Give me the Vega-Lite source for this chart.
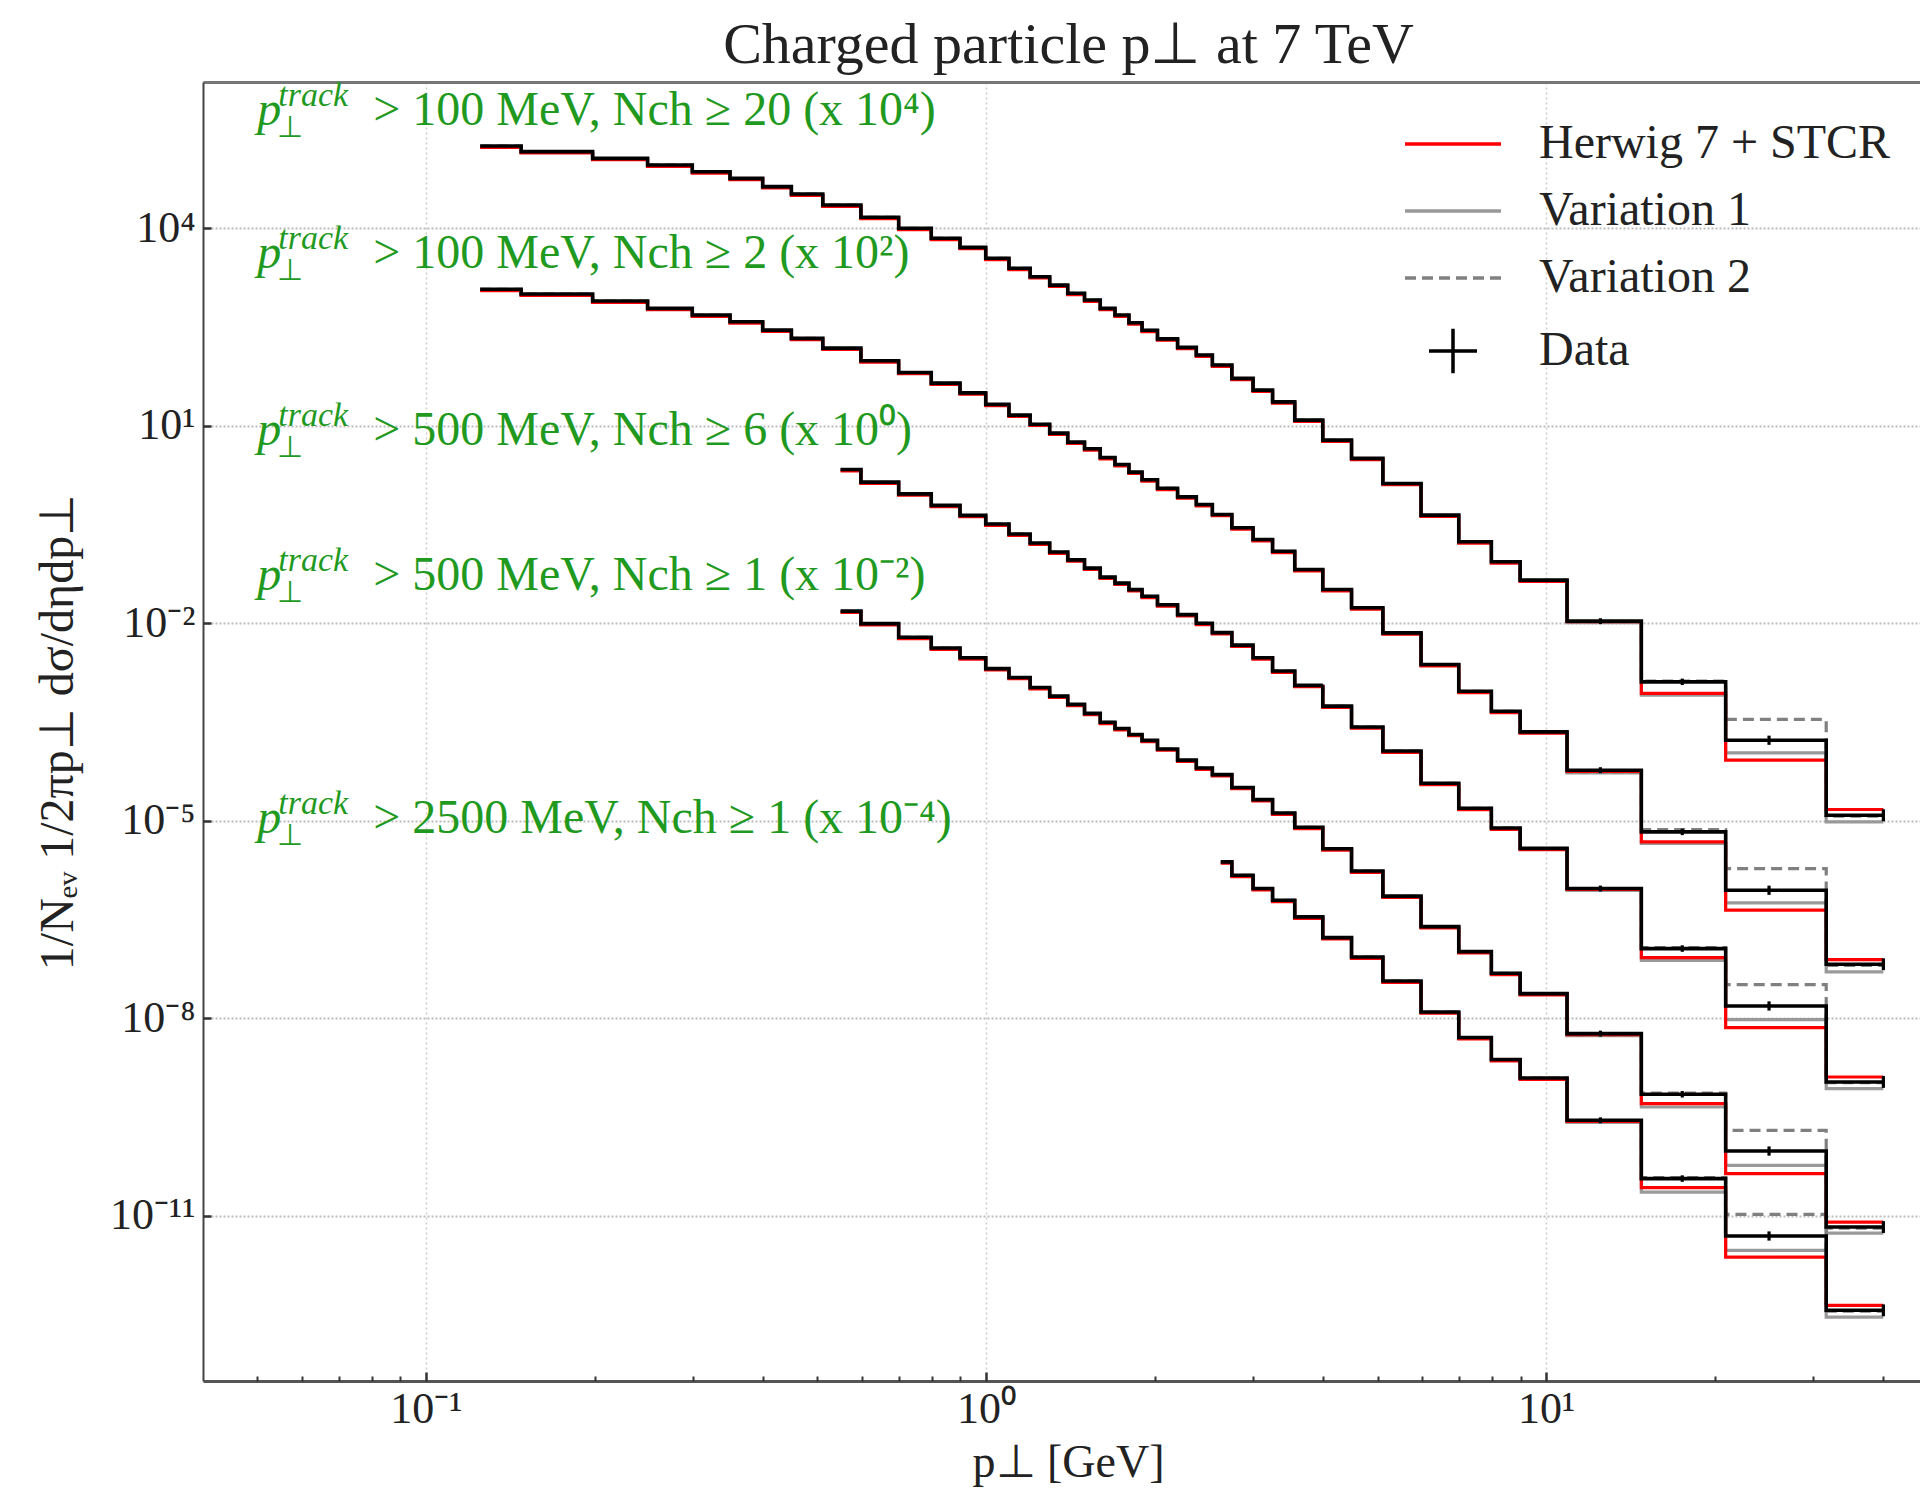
{
"$schema": "https://vega.github.io/schema/vega-lite/v6.json",
"width": 1717,
"height": 1299,
"autosize": {"type": "none"},
"padding": {"left": 203, "top": 82, "right": 0, "bottom": 109},
"background": "white",
"config": {
"view": {"stroke": null},
"font": "Liberation Serif",
"legend": {"orient": "none", "direction": "vertical", "legendX": 1226, "legendY": 38, "labelFont": "Liberation Serif", "labelFontSize": 48, "labelColor": "#222222", "labelLimit": 1000, "symbolSize": 576, "symbolStrokeWidth": 3.5, "labelOffset": 62, "rowPadding": 19, "padding": 0, "offset": 0}
},
"title": {"text": "Charged particle p⊥ at 7 TeV", "font": "Liberation Serif", "fontSize": 58, "fontWeight": "normal", "color": "#222222", "anchor": "middle", "frame": "group", "dx": 7, "dy": 60, "offset": 18, "baseline": "alphabetic"},
"datasets": {
"spec": [
{"c":"A","pt":0.125,"data":1.778e5,"h7":1.70e5,"v1":1.73e5,"v2":1.77e5},
{"c":"A","pt":0.175,"data":1.46e5,"h7":1.395e5,"v1":1.42e5,"v2":1.45e5},
{"c":"A","pt":0.225,"data":1.156e5,"h7":1.10e5,"v1":1.127e5,"v2":1.15e5},
{"c":"A","pt":0.275,"data":9.16e4,"h7":8.75e4,"v1":8.93e4,"v2":9.11e4},
{"c":"A","pt":0.325,"data":7.24e4,"h7":6.91e4,"v1":7.06e4,"v2":7.2e4},
{"c":"A","pt":0.375,"data":5.74e4,"h7":5.48e4,"v1":5.6e4,"v2":5.71e4},
{"c":"A","pt":0.425,"data":4.29e4,"h7":4.1e4,"v1":4.18e4,"v2":4.27e4},
{"c":"A","pt":0.475,"data":3.32e4,"h7":3.17e4,"v1":3.24e4,"v2":3.3e4},
{"c":"A","pt":0.55,"data":2.26e4,"h7":2.16e4,"v1":2.2e4,"v2":2.25e4},
{"c":"A","pt":0.65,"data":1.47e4,"h7":1.40e4,"v1":1.433e4,"v2":1.463e4},
{"c":"A","pt":0.75,"data":1.00e4,"h7":9.55e3,"v1":9.75e3,"v2":9.95e3},
{"c":"A","pt":0.85,"data":7.05e3,"h7":6.73e3,"v1":6.87e3,"v2":7.01e3},
{"c":"A","pt":0.95,"data":5.13e3,"h7":4.9e3,"v1":5.0e3,"v2":5.1e3},
{"c":"A","pt":1.05,"data":3.50e3,"h7":3.34e3,"v1":3.41e3,"v2":3.48e3},
{"c":"A","pt":1.15,"data":2.47e3,"h7":2.36e3,"v1":2.41e3,"v2":2.46e3},
{"c":"A","pt":1.25,"data":1.84e3,"h7":1.757e3,"v1":1.794e3,"v2":1.83e3},
{"c":"A","pt":1.35,"data":1.37e3,"h7":1.308e3,"v1":1.336e3,"v2":1.363e3},
{"c":"A","pt":1.45,"data":1.03e3,"h7":984,"v1":1004,"v2":1025},
{"c":"A","pt":1.55,"data":813,"h7":776,"v1":793,"v2":809},
{"c":"A","pt":1.65,"data":608,"h7":581,"v1":593,"v2":605},
{"c":"A","pt":1.75,"data":481,"h7":459,"v1":469,"v2":479},
{"c":"A","pt":1.85,"data":368,"h7":351,"v1":359,"v2":366},
{"c":"A","pt":1.95,"data":282,"h7":269,"v1":275,"v2":281},
{"c":"A","pt":2.1,"data":209,"h7":200,"v1":204,"v2":208},
{"c":"A","pt":2.3,"data":155,"h7":148,"v1":151,"v2":154},
{"c":"A","pt":2.45,"data":119,"h7":113.6,"v1":116,"v2":118.4},
{"c":"A","pt":2.625,"data":83.6,"h7":79.8,"v1":81.5,"v2":83.2},
{"c":"A","pt":2.875,"data":52.5,"h7":50.1,"v1":51.2,"v2":52.2},
{"c":"A","pt":3.125,"data":34.8,"h7":33.2,"v1":33.9,"v2":34.6},
{"c":"A","pt":3.375,"data":23.1,"h7":22.1,"v1":22.5,"v2":23.0},
{"c":"A","pt":3.75,"data":12.2,"h7":11.65,"v1":11.9,"v2":12.14},
{"c":"A","pt":4.25,"data":6.05,"h7":5.78,"v1":5.9,"v2":6.02},
{"c":"A","pt":4.75,"data":3.19,"h7":3.05,"v1":3.11,"v2":3.17},
{"c":"A","pt":5.5,"data":1.33,"h7":1.27,"v1":1.297,"v2":1.323},
{"c":"A","pt":6.5,"data":0.4385,"h7":0.419,"v1":0.4275,"v2":0.436},
{"c":"A","pt":7.5,"data":0.1726,"h7":0.1648,"v1":0.1683,"v2":0.1717},
{"c":"A","pt":8.5,"data":0.0857,"h7":0.0818,"v1":0.0836,"v2":0.0853},
{"c":"A","pt":9.5,"data":0.0452,"h7":0.0432,"v1":0.0441,"v2":0.045},
{"c":"A","pt":12.5,"data":0.01076,"h7":0.0106,"v1":0.01023,"v2":0.01047,"lo":0.0097,"hi":0.0119},
{"c":"A","pt":17.5,"data":1.285e-3,"h7":8.57e-4,"v1":8.05e-4,"v2":1.318e-3,"lo":1.15e-3,"hi":1.44e-3},
{"c":"A","pt":25,"data":1.671e-4,"h7":8.30e-5,"v1":1.072e-4,"v2":3.45e-4,"lo":1.42e-4,"hi":1.96e-4},
{"c":"A","pt":40,"data":1.21e-5,"h7":1.479e-5,"v1":9.6e-6,"v2":1.175e-5,"lo":9.8e-6,"hi":1.49e-5},
{"c":"B","pt":0.125,"data":1183,"h7":1130,"v1":1153,"v2":1177},
{"c":"B","pt":0.175,"data":1002,"h7":957,"v1":977,"v2":997},
{"c":"B","pt":0.225,"data":785,"h7":750,"v1":765,"v2":781},
{"c":"B","pt":0.275,"data":608,"h7":581,"v1":593,"v2":605},
{"c":"B","pt":0.325,"data":481,"h7":459,"v1":469,"v2":479},
{"c":"B","pt":0.375,"data":380,"h7":363,"v1":370.5,"v2":378},
{"c":"B","pt":0.425,"data":284,"h7":271,"v1":277,"v2":282.6},
{"c":"B","pt":0.475,"data":213,"h7":203.4,"v1":207.7,"v2":212},
{"c":"B","pt":0.55,"data":151,"h7":144.2,"v1":147.2,"v2":150.2},
{"c":"B","pt":0.65,"data":97.0,"h7":92.6,"v1":94.6,"v2":96.5},
{"c":"B","pt":0.75,"data":64.6,"h7":61.7,"v1":63.0,"v2":64.3},
{"c":"B","pt":0.85,"data":44.5,"h7":42.5,"v1":43.4,"v2":44.3},
{"c":"B","pt":0.95,"data":31.6,"h7":30.2,"v1":30.8,"v2":31.4},
{"c":"B","pt":1.05,"data":21.1,"h7":20.15,"v1":20.6,"v2":21.0},
{"c":"B","pt":1.15,"data":14.5,"h7":13.85,"v1":14.14,"v2":14.43},
{"c":"B","pt":1.25,"data":10.57,"h7":10.09,"v1":10.31,"v2":10.52},
{"c":"B","pt":1.35,"data":7.73,"h7":7.38,"v1":7.54,"v2":7.69},
{"c":"B","pt":1.45,"data":5.65,"h7":5.40,"v1":5.51,"v2":5.62},
{"c":"B","pt":1.55,"data":4.47,"h7":4.27,"v1":4.36,"v2":4.45},
{"c":"B","pt":1.65,"data":3.30,"h7":3.15,"v1":3.22,"v2":3.28},
{"c":"B","pt":1.75,"data":2.58,"h7":2.46,"v1":2.52,"v2":2.57},
{"c":"B","pt":1.85,"data":1.977,"h7":1.888,"v1":1.928,"v2":1.967},
{"c":"B","pt":1.95,"data":1.514,"h7":1.446,"v1":1.476,"v2":1.506},
{"c":"B","pt":2.1,"data":1.122,"h7":1.072,"v1":1.094,"v2":1.116},
{"c":"B","pt":2.3,"data":0.832,"h7":0.795,"v1":0.811,"v2":0.828},
{"c":"B","pt":2.45,"data":0.637,"h7":0.608,"v1":0.621,"v2":0.634},
{"c":"B","pt":2.625,"data":0.449,"h7":0.429,"v1":0.438,"v2":0.447},
{"c":"B","pt":2.875,"data":0.282,"h7":0.269,"v1":0.275,"v2":0.281},
{"c":"B","pt":3.125,"data":0.187,"h7":0.1786,"v1":0.1823,"v2":0.1861},
{"c":"B","pt":3.375,"data":0.124,"h7":0.1184,"v1":0.1209,"v2":0.1234},
{"c":"B","pt":3.75,"data":6.55e-2,"h7":6.26e-2,"v1":6.39e-2,"v2":6.52e-2},
{"c":"B","pt":4.25,"data":3.25e-2,"h7":3.10e-2,"v1":3.17e-2,"v2":3.23e-2},
{"c":"B","pt":4.75,"data":1.714e-2,"h7":1.637e-2,"v1":1.671e-2,"v2":1.705e-2},
{"c":"B","pt":5.5,"data":7.14e-3,"h7":6.82e-3,"v1":6.96e-3,"v2":7.10e-3},
{"c":"B","pt":6.5,"data":2.355e-3,"h7":2.249e-3,"v1":2.296e-3,"v2":2.343e-3},
{"c":"B","pt":7.5,"data":9.27e-4,"h7":8.85e-4,"v1":9.04e-4,"v2":9.22e-4},
{"c":"B","pt":8.5,"data":4.60e-4,"h7":4.39e-4,"v1":4.49e-4,"v2":4.58e-4},
{"c":"B","pt":9.5,"data":2.234e-4,"h7":2.13e-4,"v1":2.18e-4,"v2":2.22e-4},
{"c":"B","pt":12.5,"data":5.85e-5,"h7":5.6e-5,"v1":5.3e-5,"v2":5.5e-5,"lo":5.27e-5,"hi":6.49e-5},
{"c":"B","pt":17.5,"data":6.75e-6,"h7":4.75e-6,"v1":4.50e-6,"v2":7.35e-6,"lo":6.03e-6,"hi":7.56e-6},
{"c":"B","pt":25,"data":8.77e-7,"h7":4.365e-7,"v1":5.62e-7,"v2":1.875e-6,"lo":7.46e-7,"hi":1.03e-6},
{"c":"B","pt":40,"data":6.59e-8,"h7":7.76e-8,"v1":5.04e-8,"v2":6.31e-8,"lo":5.36e-8,"hi":8.1e-8},
{"c":"C","pt":0.55,"data":2.163,"h7":2.066,"v1":2.109,"v2":2.152},
{"c":"C","pt":0.65,"data":1.393,"h7":1.330,"v1":1.358,"v2":1.386},
{"c":"C","pt":0.75,"data":0.923,"h7":0.881,"v1":0.900,"v2":0.918},
{"c":"C","pt":0.85,"data":0.617,"h7":0.589,"v1":0.602,"v2":0.614},
{"c":"C","pt":0.95,"data":0.4345,"h7":0.415,"v1":0.4236,"v2":0.4323},
{"c":"C","pt":1.05,"data":0.3214,"h7":0.307,"v1":0.3134,"v2":0.3198},
{"c":"C","pt":1.15,"data":0.2265,"h7":0.2163,"v1":0.2208,"v2":0.2254},
{"c":"C","pt":1.25,"data":0.1652,"h7":0.1578,"v1":0.1611,"v2":0.1644},
{"c":"C","pt":1.35,"data":0.1205,"h7":0.1151,"v1":0.1175,"v2":0.1199},
{"c":"C","pt":1.45,"data":9.18e-2,"h7":8.77e-2,"v1":8.95e-2,"v2":9.13e-2},
{"c":"C","pt":1.55,"data":6.87e-2,"h7":6.56e-2,"v1":6.70e-2,"v2":6.84e-2},
{"c":"C","pt":1.65,"data":5.01e-2,"h7":4.78e-2,"v1":4.88e-2,"v2":4.98e-2},
{"c":"C","pt":1.75,"data":4.07e-2,"h7":3.89e-2,"v1":3.97e-2,"v2":4.05e-2},
{"c":"C","pt":1.85,"data":3.24e-2,"h7":3.09e-2,"v1":3.16e-2,"v2":3.22e-2},
{"c":"C","pt":1.95,"data":2.57e-2,"h7":2.45e-2,"v1":2.51e-2,"v2":2.56e-2},
{"c":"C","pt":2.1,"data":1.905e-2,"h7":1.819e-2,"v1":1.857e-2,"v2":1.895e-2},
{"c":"C","pt":2.3,"data":1.349e-2,"h7":1.288e-2,"v1":1.315e-2,"v2":1.342e-2},
{"c":"C","pt":2.45,"data":1.0e-2,"h7":9.55e-3,"v1":9.75e-3,"v2":9.95e-3},
{"c":"C","pt":2.625,"data":7.19e-3,"h7":6.87e-3,"v1":7.01e-3,"v2":7.15e-3},
{"c":"C","pt":2.875,"data":4.65e-3,"h7":4.44e-3,"v1":4.53e-3,"v2":4.63e-3},
{"c":"C","pt":3.125,"data":2.985e-3,"h7":2.851e-3,"v1":2.910e-3,"v2":2.970e-3},
{"c":"C","pt":3.375,"data":1.875e-3,"h7":1.791e-3,"v1":1.828e-3,"v2":1.866e-3},
{"c":"C","pt":3.75,"data":1.138e-3,"h7":1.087e-3,"v1":1.110e-3,"v2":1.132e-3},
{"c":"C","pt":4.25,"data":5.50e-4,"h7":5.25e-4,"v1":5.36e-4,"v2":5.47e-4},
{"c":"C","pt":4.75,"data":2.655e-4,"h7":2.536e-4,"v1":2.589e-4,"v2":2.642e-4},
{"c":"C","pt":5.5,"data":1.143e-4,"h7":1.092e-4,"v1":1.114e-4,"v2":1.137e-4},
{"c":"C","pt":6.5,"data":3.71e-5,"h7":3.54e-5,"v1":3.62e-5,"v2":3.69e-5},
{"c":"C","pt":7.5,"data":1.542e-5,"h7":1.473e-5,"v1":1.503e-5,"v2":1.534e-5},
{"c":"C","pt":8.5,"data":7.73e-6,"h7":7.38e-6,"v1":7.54e-6,"v2":7.69e-6},
{"c":"C","pt":9.5,"data":3.80e-6,"h7":3.63e-6,"v1":3.71e-6,"v2":3.78e-6},
{"c":"C","pt":12.5,"data":9.31e-7,"h7":9.0e-7,"v1":8.7e-7,"v2":9.0e-7,"lo":8.39e-7,"hi":1.033e-6},
{"c":"C","pt":17.5,"data":1.14e-7,"h7":8.32e-8,"v1":7.57e-8,"v2":1.175e-7,"lo":1.018e-7,"hi":1.277e-7},
{"c":"C","pt":25,"data":1.531e-8,"h7":7.19e-9,"v1":9.51e-9,"v2":3.236e-8,"lo":1.303e-8,"hi":1.80e-8},
{"c":"C","pt":40,"data":1.072e-9,"h7":1.276e-9,"v1":8.51e-10,"v2":1.047e-9,"lo":8.72e-10,"hi":1.32e-9},
{"c":"D","pt":0.55,"data":1.528e-2,"h7":1.459e-2,"v1":1.490e-2,"v2":1.520e-2},
{"c":"D","pt":0.65,"data":9.86e-3,"h7":9.42e-3,"v1":9.61e-3,"v2":9.81e-3},
{"c":"D","pt":0.75,"data":6.11e-3,"h7":5.84e-3,"v1":5.96e-3,"v2":6.08e-3},
{"c":"D","pt":0.85,"data":4.20e-3,"h7":4.01e-3,"v1":4.10e-3,"v2":4.18e-3},
{"c":"D","pt":0.95,"data":2.985e-3,"h7":2.851e-3,"v1":2.910e-3,"v2":2.970e-3},
{"c":"D","pt":1.05,"data":2.046e-3,"h7":1.954e-3,"v1":1.995e-3,"v2":2.036e-3},
{"c":"D","pt":1.15,"data":1.50e-3,"h7":1.433e-3,"v1":1.463e-3,"v2":1.493e-3},
{"c":"D","pt":1.25,"data":1.057e-3,"h7":1.009e-3,"v1":1.031e-3,"v2":1.052e-3},
{"c":"D","pt":1.35,"data":7.80e-4,"h7":7.45e-4,"v1":7.61e-4,"v2":7.76e-4},
{"c":"D","pt":1.45,"data":5.85e-4,"h7":5.59e-4,"v1":5.70e-4,"v2":5.82e-4},
{"c":"D","pt":1.55,"data":4.27e-4,"h7":4.08e-4,"v1":4.16e-4,"v2":4.25e-4},
{"c":"D","pt":1.65,"data":3.126e-4,"h7":2.985e-4,"v1":3.048e-4,"v2":3.110e-4},
{"c":"D","pt":1.75,"data":2.512e-4,"h7":2.399e-4,"v1":2.449e-4,"v2":2.499e-4},
{"c":"D","pt":1.85,"data":2.042e-4,"h7":1.950e-4,"v1":1.991e-4,"v2":2.032e-4},
{"c":"D","pt":1.95,"data":1.66e-4,"h7":1.585e-4,"v1":1.619e-4,"v2":1.652e-4},
{"c":"D","pt":2.1,"data":1.23e-4,"h7":1.175e-4,"v1":1.199e-4,"v2":1.224e-4},
{"c":"D","pt":2.3,"data":8.32e-5,"h7":7.95e-5,"v1":8.11e-5,"v2":8.28e-5},
{"c":"D","pt":2.45,"data":6.31e-5,"h7":6.03e-5,"v1":6.15e-5,"v2":6.28e-5},
{"c":"D","pt":2.625,"data":5.01e-5,"h7":4.78e-5,"v1":4.88e-5,"v2":4.98e-5},
{"c":"D","pt":2.875,"data":3.20e-5,"h7":3.06e-5,"v1":3.12e-5,"v2":3.18e-5},
{"c":"D","pt":3.125,"data":2.09e-5,"h7":2.0e-5,"v1":2.04e-5,"v2":2.08e-5},
{"c":"D","pt":3.375,"data":1.309e-5,"h7":1.250e-5,"v1":1.276e-5,"v2":1.302e-5},
{"c":"D","pt":3.75,"data":7.94e-6,"h7":7.58e-6,"v1":7.74e-6,"v2":7.90e-6},
{"c":"D","pt":4.25,"data":3.74e-6,"h7":3.57e-6,"v1":3.65e-6,"v2":3.72e-6},
{"c":"D","pt":4.75,"data":1.718e-6,"h7":1.641e-6,"v1":1.675e-6,"v2":1.709e-6},
{"c":"D","pt":5.5,"data":7.14e-7,"h7":6.82e-7,"v1":6.96e-7,"v2":7.10e-7},
{"c":"D","pt":6.5,"data":2.455e-7,"h7":2.345e-7,"v1":2.394e-7,"v2":2.443e-7},
{"c":"D","pt":7.5,"data":1.023e-7,"h7":9.77e-8,"v1":9.97e-8,"v2":1.018e-7},
{"c":"D","pt":8.5,"data":4.81e-8,"h7":4.59e-8,"v1":4.69e-8,"v2":4.79e-8},
{"c":"D","pt":9.5,"data":2.36e-8,"h7":2.25e-8,"v1":2.30e-8,"v2":2.35e-8},
{"c":"D","pt":12.5,"data":5.82e-9,"h7":5.6e-9,"v1":5.4e-9,"v2":5.6e-9,"lo":5.24e-9,"hi":6.46e-9},
{"c":"D","pt":17.5,"data":6.97e-10,"h7":5.04e-10,"v1":4.47e-10,"v2":7.29e-10,"lo":6.22e-10,"hi":7.81e-10},
{"c":"D","pt":25,"data":9.57e-11,"h7":4.345e-11,"v1":5.81e-11,"v2":1.977e-10,"lo":8.14e-11,"hi":1.125e-10},
{"c":"D","pt":40,"data":6.70e-12,"h7":7.98e-12,"v1":5.43e-12,"v2":6.46e-12,"lo":5.45e-12,"hi":8.24e-12},
{"c":"E","pt":2.625,"data":2.366e-6,"h7":2.26e-6,"v1":2.307e-6,"v2":2.354e-6},
{"c":"E","pt":2.875,"data":1.483e-6,"h7":1.416e-6,"v1":1.446e-6,"v2":1.476e-6},
{"c":"E","pt":3.125,"data":9.31e-7,"h7":8.89e-7,"v1":9.08e-7,"v2":9.26e-7},
{"c":"E","pt":3.375,"data":6.18e-7,"h7":5.90e-7,"v1":6.03e-7,"v2":6.15e-7},
{"c":"E","pt":3.75,"data":3.45e-7,"h7":3.29e-7,"v1":3.36e-7,"v2":3.43e-7},
{"c":"E","pt":4.25,"data":1.675e-7,"h7":1.60e-7,"v1":1.633e-7,"v2":1.667e-7},
{"c":"E","pt":4.75,"data":8.49e-8,"h7":8.11e-8,"v1":8.28e-8,"v2":8.45e-8},
{"c":"E","pt":5.5,"data":3.67e-8,"h7":3.50e-8,"v1":3.58e-8,"v2":3.65e-8},
{"c":"E","pt":6.5,"data":1.242e-8,"h7":1.186e-8,"v1":1.211e-8,"v2":1.236e-8},
{"c":"E","pt":7.5,"data":5.07e-9,"h7":4.84e-9,"v1":4.94e-9,"v2":5.04e-9},
{"c":"E","pt":8.5,"data":2.35e-9,"h7":2.24e-9,"v1":2.29e-9,"v2":2.34e-9},
{"c":"E","pt":9.5,"data":1.233e-9,"h7":1.178e-9,"v1":1.202e-9,"v2":1.227e-9},
{"c":"E","pt":12.5,"data":2.805e-10,"h7":2.70e-10,"v1":2.60e-10,"v2":2.70e-10,"lo":2.53e-10,"hi":3.11e-10},
{"c":"E","pt":17.5,"data":3.65e-11,"h7":2.66e-11,"v1":2.28e-11,"v2":3.78e-11,"lo":3.26e-11,"hi":4.09e-11},
{"c":"E","pt":25,"data":4.90e-12,"h7":2.344e-12,"v1":2.965e-12,"v2":1.045e-11,"lo":4.17e-12,"hi":5.76e-12},
{"c":"E","pt":40,"data":3.64e-13,"h7":4.335e-13,"v1":2.877e-13,"v2":3.55e-13,"lo":2.96e-13,"hi":4.48e-13}
],
"notes": [
{"x":0.05,"y":3.71e5,"rest":"> 100 MeV, Nch ≥ 20 (x 10⁴)"},
{"x":0.05,"y":2.49e3,"rest":"> 100 MeV, Nch ≥ 2 (x 10²)"},
{"x":0.05,"y":5.08,"rest":"> 500 MeV, Nch ≥ 6 (x 10⁰)"},
{"x":0.05,"y":3.18e-2,"rest":"> 500 MeV, Nch ≥ 1 (x 10⁻²)"},
{"x":0.05,"y":6.45e-6,"rest":"> 2500 MeV, Nch ≥ 1 (x 10⁻⁴)"}
],
"keys": [
{"series":"Herwig 7 + STCR"},
{"series":"Variation 1"},
{"series":"Variation 2"},
{"series":"Data"}
]
},
"layer": [
{
"data": {"name": "spec"},
"mark": {"type": "line", "interpolate": "step", "strokeWidth": 3.2},
"encoding": {
"x": {"field": "pt", "type": "quantitative", "scale": {"type": "log", "domain": [0.04, 46.5], "nice": false},
 "axis": {"orient": "bottom", "values": [0.1, 1, 10], "labelExpr": "datum.value < 0.5 ? '10⁻¹' : datum.value < 5 ? '10⁰' : '10¹'", "ticks": false, "tickSize": 0, "labelPadding": 6, "labelFontSize": 44, "labelColor": "#222222", "labelFlush": false, "labelOverlap": false, "domain": true, "domainColor": "#555555", "domainWidth": 3, "grid": true, "gridColor": "#cccccc", "gridDash": [2, 3], "gridWidth": 1.5, "title": "p⊥  [GeV]", "titleFontSize": 46, "titleFontWeight": "normal", "titleColor": "#222222", "titleX": 865, "titleY": 81, "titleBaseline": "middle", "titleAlign": "center"}},
"y": {"field": "v1", "type": "quantitative", "scale": {"type": "log", "domain": [3.07e-14, 1.67e6], "nice": false},
 "axis": {"orient": "left", "values": [1e4, 10, 0.01, 1e-5, 1e-8, 1e-11], "labelExpr": "datum.value > 1000 ? '10⁴' : datum.value > 1 ? '10¹' : datum.value > 1e-3 ? '10⁻²' : datum.value > 1e-6 ? '10⁻⁵' : datum.value > 1e-9 ? '10⁻⁸' : '10⁻¹¹'", "ticks": false, "tickSize": 0, "labelPadding": 8, "labelFontSize": 44, "labelColor": "#222222", "labelBaseline": "middle", "labelFlush": false, "labelOverlap": false, "domain": true, "domainColor": "#444444", "domainWidth": 2, "grid": true, "gridColor": "#bbbbbb", "gridDash": [2, 2], "gridWidth": 2, "title": "1/Nₑᵥ 1/2πp⊥ dσ/dηdp⊥", "titleFontSize": 48, "titleFontWeight": "normal", "titleColor": "#222222", "titleX": -145, "titleY": 649.5, "titleAngle": 270, "titleBaseline": "middle", "titleAlign": "center"}},
"detail": {"field": "c"},
"color": {"datum": "Variation 1", "type": "nominal", "title": null, "scale": {"domain": ["Herwig 7 + STCR", "Variation 1", "Variation 2", "Data"], "range": ["#ff0000", "#999999", "#808080", "#000000"]}},
"strokeDash": {"datum": "Variation 1", "type": "nominal", "title": null, "scale": {"domain": ["Herwig 7 + STCR", "Variation 1", "Variation 2", "Data"], "range": [[1, 0], [1, 0], [11, 6], [1, 0]]}}
}
},
{
"data": {"name": "spec"},
"mark": {"type": "line", "interpolate": "step", "strokeWidth": 3.2},
"encoding": {
"x": {"field": "pt", "type": "quantitative", "scale": {"type": "log", "domain": [0.04, 46.5], "nice": false},
 "axis": {"orient": "top", "offset": -1299, "values": [0.05, 0.06, 0.07, 0.08, 0.09, 0.2, 0.3, 0.4, 0.5, 0.6, 0.7, 0.8, 0.9, 2, 3, 4, 5, 6, 7, 8, 9, 20, 30, 40], "labels": false, "domain": false, "grid": false, "ticks": true, "tickSize": 5, "tickWidth": 2, "tickColor": "#333333", "title": null}},
"y": {"field": "v2", "type": "quantitative", "scale": {"type": "log", "domain": [3.07e-14, 1.67e6], "nice": false},
 "axis": {"orient": "right", "offset": -1717, "values": [1e4, 10, 0.01, 1e-5, 1e-8, 1e-11], "labels": false, "domain": false, "grid": false, "ticks": true, "tickSize": 8, "tickWidth": 2.5, "tickColor": "#333333", "title": null}},
"detail": {"field": "c"},
"color": {"datum": "Variation 2", "type": "nominal", "title": null},
"strokeDash": {"datum": "Variation 2", "type": "nominal", "title": null}
}
},
{
"data": {"name": "spec"},
"mark": {"type": "line", "interpolate": "step", "strokeWidth": 3.2},
"encoding": {
"x": {"field": "pt", "type": "quantitative", "axis": {"orient": "top", "labels": false, "ticks": false, "grid": false, "domain": true, "domainColor": "#777777", "domainWidth": 3, "title": null}},
"y": {"field": "h7", "type": "quantitative", "axis": null},
"detail": {"field": "c"},
"color": {"datum": "Herwig 7 + STCR", "type": "nominal", "title": null},
"strokeDash": {"datum": "Herwig 7 + STCR", "type": "nominal", "title": null}
}
},
{
"data": {"name": "spec"},
"mark": {"type": "line", "interpolate": "step", "strokeWidth": 3.6},
"encoding": {
"x": {"field": "pt", "type": "quantitative", "axis": {"orient": "top", "offset": -1299, "values": [0.1, 1, 10], "labels": false, "domain": false, "grid": false, "ticks": true, "tickSize": 9, "tickWidth": 2.5, "tickColor": "#333333", "title": null}},
"y": {"field": "data", "type": "quantitative", "axis": null},
"detail": {"field": "c"},
"color": {"datum": "Data", "type": "nominal", "title": null},
"strokeDash": {"datum": "Data", "type": "nominal", "title": null}
}
},
{
"data": {"name": "spec"},
"transform": [{"filter": "isValid(datum.lo)"}],
"mark": {"type": "rule", "color": "#000000", "strokeWidth": 3.2},
"encoding": {
"x": {"field": "pt", "type": "quantitative", "axis": null},
"y": {"field": "lo", "type": "quantitative", "axis": null},
"y2": {"field": "hi"}
}
},
{
"data": {"name": "keys"},
"transform": [{"filter": "datum.series == 'none'"}],
"mark": {"type": "point", "filled": false, "opacity": 1, "strokeWidth": 3.5},
"encoding": {
"color": {"field": "series", "type": "nominal", "title": null},
"shape": {"field": "series", "type": "nominal", "title": null, "scale": {"domain": ["Herwig 7 + STCR", "Variation 1", "Variation 2", "Data"], "range": ["M-4,0H4", "M-4,0H4", "M-4,0H4", "M-2,0H2M0,-1.85V1.85"]}},
"strokeDash": {"field": "series", "type": "nominal", "title": null}
}
},
{
"data": {"name": "notes"},
"mark": {"type": "text", "text": "p", "fontStyle": "italic", "fontSize": 48, "color": "#1f9a1f", "align": "left", "baseline": "alphabetic"},
"encoding": {"x": {"field": "x", "type": "quantitative", "axis": null}, "y": {"field": "y", "type": "quantitative", "axis": null}}
},
{
"data": {"name": "notes"},
"mark": {"type": "text", "text": "track", "fontStyle": "italic", "fontSize": 34, "color": "#1f9a1f", "align": "left", "baseline": "alphabetic", "dx": 21, "dy": -19},
"encoding": {"x": {"field": "x", "type": "quantitative", "axis": null}, "y": {"field": "y", "type": "quantitative", "axis": null}}
},
{
"data": {"name": "notes"},
"mark": {"type": "text", "text": "⊥", "fontSize": 30, "color": "#1f9a1f", "align": "left", "baseline": "alphabetic", "dx": 20, "dy": 12},
"encoding": {"x": {"field": "x", "type": "quantitative", "axis": null}, "y": {"field": "y", "type": "quantitative", "axis": null}}
},
{
"data": {"name": "notes"},
"mark": {"type": "text", "fontSize": 48, "color": "#1f9a1f", "align": "left", "baseline": "alphabetic", "dx": 116},
"encoding": {"x": {"field": "x", "type": "quantitative", "axis": null}, "y": {"field": "y", "type": "quantitative", "axis": null}, "text": {"field": "rest"}}
}
],
"resolve": {"axis": {"x": "independent", "y": "independent"}}
}
